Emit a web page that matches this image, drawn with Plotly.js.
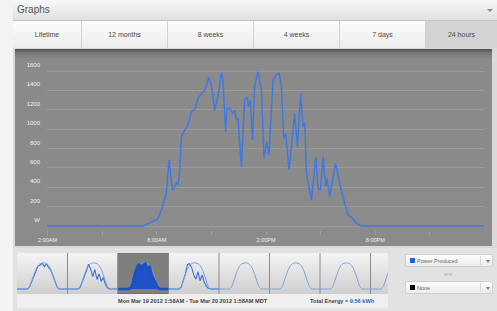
<!DOCTYPE html>
<html>
<head>
<meta charset="utf-8">
<script src="https://cdn.plot.ly/plotly-3.0.1.min.js"></script>
<style>
  html, body { margin:0; padding:0; }
  body { width:497px; height:311px; overflow:hidden; background:#f3f3f3; font-family:"Liberation Sans", Arial, sans-serif; position:relative; }
  .abs { position:absolute; }
  #header { left:13px; top:0; width:484px; height:20px; background:linear-gradient(#f8f8f8,#e0e0e0); border-bottom:1px solid #c4c4c4; }
  #header span { position:absolute; left:4px; top:0; line-height:20px; font-size:10px; color:#555; }
  #header i { position:absolute; right:4px; top:9px; width:0; height:0; border-left:3px solid transparent; border-right:3px solid transparent; border-top:3px solid #888; }
  #tabs { left:13px; top:21px; width:484px; height:27px; }
  .tab { position:absolute; top:0; height:27px; line-height:27px; text-align:center; font-size:7px; color:#4a4a4a; background:linear-gradient(#fbfbfb,#ededed); border-right:1px solid #d2d2d2; box-sizing:border-box; }
  .tab.sel { background:#d3d3d3; border-right:none; }
  #content { left:13px; top:48px; width:484px; height:263px; background:#dadada; }
  #panel { left:15px; top:49px; width:477px; height:197px; background:linear-gradient(#505050 0px,#777 4px,#8a8a8a 10px,#8b8b8b 100%); }
  #main { left:15px; top:49px; width:477px; height:197px; }
  #lower { left:13px; top:248px; width:484px; height:63px; background:#e2e2e2; }
  #thumbbg { left:17px; top:253px; width:371px; height:41px; background:linear-gradient(#f4f4f4,#cfcfcf); border-radius:3px 3px 0 0; }
  #thumbs { left:17px; top:253px; width:371px; height:41px; }
  #datebar { left:17px; top:294px; width:371px; height:14px; background:#efefef; font-size:5.6px; color:#444; font-weight:bold; }
  #datebar .d { position:absolute; left:101px; top:4px; }
  #datebar .t { position:absolute; left:293px; top:4px; }
  #datebar .t b { color:#2a5fd0; }
  .dd { position:absolute; left:405px; width:88px; height:13px; background:linear-gradient(#fdfdfd,#ececec); border:1px solid #d0d0d0; box-sizing:border-box; border-radius:2px; font-size:5.5px; color:#666; }
  .dd .sq { position:absolute; left:4px; top:3px; width:5px; height:5px; }
  .dd .lb { position:absolute; left:11px; top:3px; }
  .dd .sp { position:absolute; left:74px; top:1px; width:1px; height:9px; background:#d6d6d6; }
  .dd i { position:absolute; left:80px; top:5px; width:0; height:0; border-left:2.5px solid transparent; border-right:2.5px solid transparent; border-top:3px solid #777; }
  #and { left:444px; top:271px; font-size:5px; color:#b0b0b0; }
</style>
</head>
<body>
<div id="header" class="abs"><span>Graphs</span><i></i></div>
<div id="tabs" class="abs"></div>
<div id="content" class="abs"></div>
<div id="panel" class="abs"></div>
<div id="main" class="abs"></div>
<div id="lower" class="abs"></div>
<div id="thumbbg" class="abs"></div>
<div id="thumbs" class="abs"></div>
<div id="datebar" class="abs"><span class="d">Mon Mar 19 2012 1:58AM - Tue Mar 20 2012 1:58AM MDT</span><span class="t">Total Energy = <b>9.56 kWh</b></span></div>
<div class="dd" style="top:254px"><div class="sq" style="background:#1f5fe0"></div><span class="lb">Power Produced</span><div class="sp"></div><i></i></div>
<div id="and" class="abs">and</div>
<div class="dd" style="top:281px"><div class="sq" style="background:#000"></div><span class="lb">None</span><div class="sp"></div><i></i></div>

<script>
// ---------- Data ----------
const tabLabels = ["Lifetime", "12 months", "8 weeks", "4 weeks", "7 days", "24 hours"];

// main 24-hour chart: time in hours since midnight Mar 19 (1:58AM .. 1:58AM next day)
const timeHours = [1.967, 7.24, 7.60, 8.06, 8.25, 8.43, 8.52, 8.67, 8.85, 8.98, 9.07, 9.16, 9.25, 9.35, 9.53, 9.71,
  9.90, 10.08, 10.26, 10.45, 10.63, 10.86, 10.99, 11.18, 11.36, 11.54, 11.63, 11.78, 11.85, 12.00, 12.18, 12.27,
  12.37, 12.46, 12.64, 12.82, 12.95, 13.04, 13.14, 13.25, 13.37, 13.56, 13.74, 13.89, 14.02, 14.16, 14.38, 14.57,
  14.71, 14.84, 14.97, 15.08, 15.26, 15.57, 15.72, 15.90, 16.03, 16.12, 16.22, 16.49, 16.73, 16.85, 16.98, 17.13,
  17.27, 17.35, 17.49, 17.81, 18.04, 18.32, 18.50, 18.69, 18.96, 19.24, 25.967];
const powerWatts = [0, 0, 30, 75, 165, 300, 337, 681, 371, 406, 450, 426, 544, 922, 991, 1042,
  1180, 1204, 1318, 1369, 1404, 1535, 1455, 1197, 1334, 1582, 1507, 973, 1214, 1214, 1163, 1197,
  1094, 1110, 612, 1300, 1334, 1231, 1300, 888, 1438, 1593, 1404, 698, 870, 733, 1507, 1559,
  1582, 1438, 905, 955, 578, 1163, 818, 1369, 1025, 1060, 544, 268, 715, 389, 371, 715,
  406, 492, 302, 647, 440, 234, 113, 89, 28, 0, 0];

const xTickVals = [2, 5, 8, 11, 14, 17, 20, 23];
const xTickText = ["2:00AM", "", "8:00AM", "", "2:00PM", "", "8:00PM", ""];
const yTickVals = [0, 200, 400, 600, 800, 1000, 1200, 1400, 1600];
const yTickText = ["W", "200", "400", "600", "800", "1000", "1200", "1400", "1600"];

// thumbnail strip: hours into each day cell
const thumbHours = [0,1,2,3,4,5,6,7,8,9,10,11,12,13,14,15,16,17,18,19,20,21,22,23,24];
const expectedDay = [0,0,0,0,0,0,150,500,900,1250,1480,1600,1640,1640,1600,1480,1250,900,500,150,0,0,0,0,0];
const actualMar17 = [0,0,0,0,0,0,140,480,880,1230,1450,1520,1620,1400,1590,1350,1200,880,480,140,0,0,0,0,0];
const actualMar18 = [0,0,0,0,0,0,100,420,760,1150,1560,1250,780,1230,600,950,480,720,300,80,0,0,0,0,0];
const actualMar19 = [0,0,0,0,0,0,60,350,950,1350,1580,1300,1520,1600,1150,1450,900,650,300,60,0,0,0,0,0];
const actualMar20 = [0,0,0,0,0,0,120,480,950,1550,1600,1350,900,620,1100,520,880,420,160,30,0,0,0,0,0];
const expectedDays = 8;          // Mar 17 .. Mar 24 (last one cut off)
const selectedDay = 2;           // Mar 19
const actualDays = [[0, actualMar17], [1, actualMar18], [3, actualMar20]];

// ---------- Tabs ----------
const tabEdges = [0, 69, 155, 241, 327, 413, 484];
const tabsEl = document.getElementById('tabs');
tabLabels.forEach((t, i) => {
  const d = document.createElement('div');
  d.className = 'tab' + (i === tabLabels.length - 1 ? ' sel' : '');
  d.style.left = tabEdges[i] + 'px';
  d.style.width = (tabEdges[i + 1] - tabEdges[i]) + 'px';
  d.textContent = t;
  tabsEl.appendChild(d);
});

// ---------- Main chart ----------
Plotly.newPlot('main', [{
  x: timeHours, y: powerWatts, type: 'scatter', mode: 'lines',
  line: { color: '#3f78e4', width: 1.5 }, hoverinfo: 'skip'
}], {
  width: 477, height: 197,
  margin: { l: 32, r: 8, t: 7, b: 16, pad: 0 },
  paper_bgcolor: 'rgba(0,0,0,0)', plot_bgcolor: 'rgba(0,0,0,0)',
  showlegend: false,
  font: { family: '"Liberation Sans", Arial, sans-serif' },
  xaxis: {
    range: [1.967, 25.967], tickvals: xTickVals, ticktext: xTickText,
    showgrid: false, zeroline: false, showline: false,
    ticks: 'outside', ticklen: 4, tickcolor: '#a0a0a0', tickwidth: 1,
    tickfont: { size: 5.5, color: '#f2f2f2' }
  },
  yaxis: {
    range: [-41.3, 1754.8], tickvals: yTickVals, ticktext: yTickText,
    showgrid: true, gridcolor: '#9b9b9b', gridwidth: 1, zeroline: false, showline: false,
    ticks: '', ticklabelshift: -6, ticklabelstandoff: 6,
    tickfont: { size: 6, color: '#f2f2f2' }
  }
}, { staticPlot: true, displayModeBar: false });

// ---------- Thumbnails ----------
function spanDay(day, vals) {
  return { x: thumbHours.map(h => day * 24 + h), y: vals };
}
const expX = [], expY = [];
for (let d = 0; d < expectedDays; d++) {
  const s = spanDay(d, expectedDay);
  expX.push(...s.x); expY.push(...s.y);
}
const thumbTraces = [];
actualDays.forEach(([d, vals]) => {
  const s = spanDay(d, vals);
  thumbTraces.push({ x: s.x, y: s.y, type: 'scatter', mode: 'lines',
    line: { color: '#3a70dc', width: 1.1 }, hoverinfo: 'skip' });
});
thumbTraces.push({
  x: expX, y: expY, type: 'scatter', mode: 'lines',
  line: { color: '#7aa2da', width: 1, shape: 'spline', smoothing: 0.8 }, hoverinfo: 'skip'
});
const sel = spanDay(selectedDay, actualMar19);
thumbTraces.push({ x: sel.x, y: sel.y, type: 'scatter', mode: 'lines', fill: 'tozeroy',
  fillcolor: '#1f52c4', line: { color: '#1b4fc6', width: 2.6 }, hoverinfo: 'skip' });

const shapes = [{ type: 'rect', layer: 'below', xref: 'x', yref: 'paper',
  x0: selectedDay * 24, x1: (selectedDay + 1) * 24, y0: 0, y1: 1,
  fillcolor: '#7f7f7f', line: { color: '#666', width: 1 } }];
for (let d = 1; d < expectedDays; d++) {
  shapes.push({ type: 'line', layer: 'below', xref: 'x', yref: 'paper', x0: d * 24, x1: d * 24, y0: 0, y1: 1,
    line: { color: '#8c8c8c', width: 1 } });
}

Plotly.newPlot('thumbs', thumbTraces, {
  width: 371, height: 41,
  margin: { l: 0, r: 0, t: 0, b: 0, pad: 0 },
  paper_bgcolor: 'rgba(0,0,0,0)', plot_bgcolor: 'rgba(0,0,0,0)',
  showlegend: false, shapes: shapes,
  xaxis: { range: [0, 176.3], visible: false },
  yaxis: { range: [-315, 2271], visible: false }
}, { staticPlot: true, displayModeBar: false });
</script>
</body>
</html>
